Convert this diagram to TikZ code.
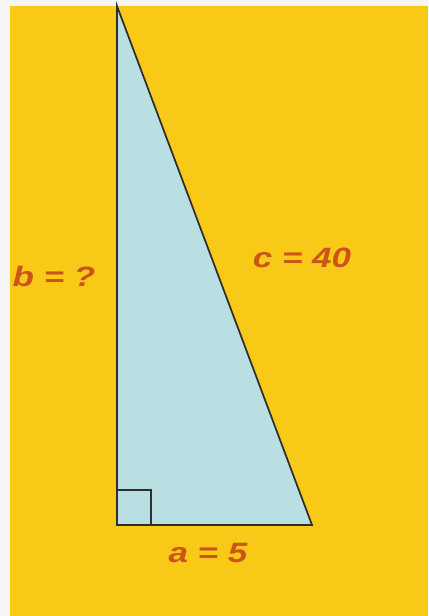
\documentclass[tikz,border=0pt]{standalone}
\usepackage{fontspec}
\setmainfont{Liberation Sans}
\definecolor{paper}{HTML}{F9C917}
\definecolor{sky}{HTML}{BADFE2}
\definecolor{rust}{HTML}{CC5419}
\definecolor{edge}{HTML}{2E2E2E}

\begin{document}
\begin{tikzpicture}[
        x=0.75pt, y=0.75pt,
        side/.style={draw=edge, line width=1.3pt, line join=miter},
        lbl/.style={text=rust, font=\fontsize{21pt}{23pt}\selectfont\bfseries\itshape,
                xscale=1.25, inner sep=0pt}
    ]
    \fill[gray!8] (0,0) rectangle (428,616);
    \fill[paper] (10,0) rectangle (428,610);

    \coordinate (top) at (117,610);
    \coordinate (corner) at (117,91);
    \coordinate (right) at (312,91);

    \filldraw[side, fill=sky] (top) -- (corner) -- (right) -- cycle;
    \draw[side] (corner) ++(0,35) -| ++(34,-35);

    \node[lbl] (b) at (54,340) {b = ?};
    \node[lbl] (c) at (302,358) {c = 40};
    \node[lbl] (a) at (208,63) {a = 5};
\end{tikzpicture}
\end{document}
